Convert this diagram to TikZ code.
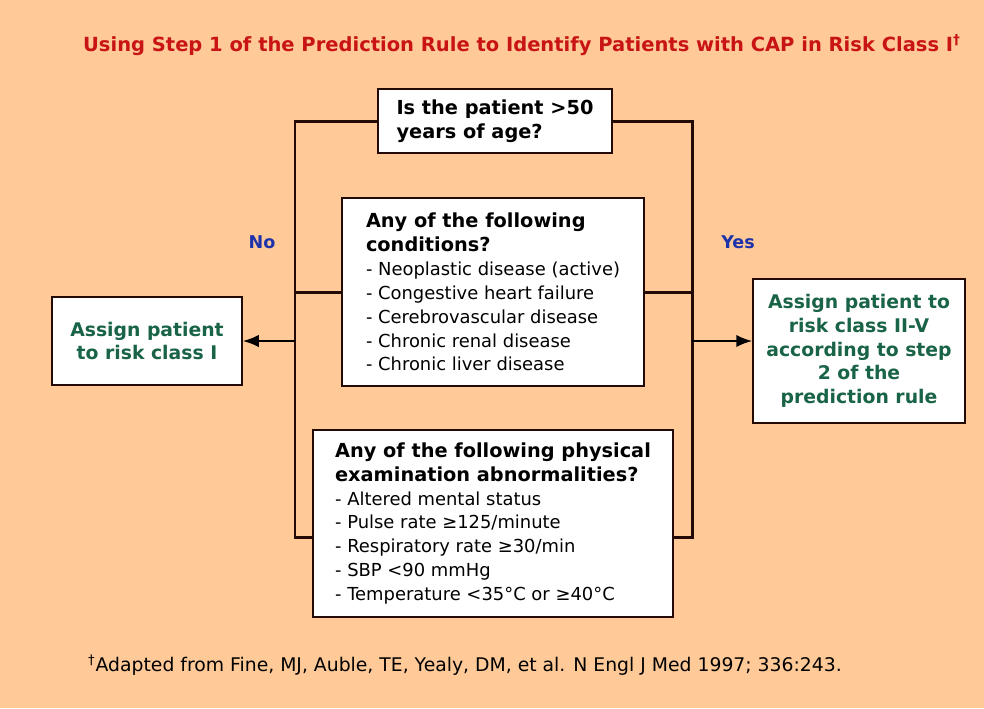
\documentclass[tikz,border=0pt]{standalone}
\usepackage{fontspec}
\setmainfont{DejaVu Sans}
\usetikzlibrary{arrows.meta,positioning}
\definecolor{peach}{RGB}{255,202,152}
\definecolor{titleRed}{RGB}{200,20,20}
\definecolor{ruleGreen}{RGB}{25,100,70}
\definecolor{answerBlue}{RGB}{30,50,170}
\definecolor{frameInk}{RGB}{35,10,5}
\newcommand{\qhead}[1]{{\bfseries\fontsize{11}{13.6}\selectfont #1}}

\begin{document}
\begin{tikzpicture}[x=0.02cm,y=-0.02cm,
    qbox/.style={draw=frameInk, line width=1.1pt, fill=white, inner sep=0pt, align=left,
      font=\fontsize{10.2}{13.6}\selectfont},
    abox/.style={draw=frameInk, line width=1.1pt, fill=white, inner sep=0pt, align=center,
      text=ruleGreen, font=\bfseries\fontsize{10.7}{13.5}\selectfont},
    frame/.style={frameInk, line width=1.7pt},
    arr/.style={black, line width=0.9pt, -{Latex[length=9pt,width=7pt]}},
    answer/.style={text=answerBlue, font=\bfseries\fontsize{10}{12}\selectfont}]
  % Background
  \fill[peach] (0,0) rectangle (984,708);
  \useasboundingbox (0,0) rectangle (984,708);
  % Title
  \node[text=titleRed, font=\bfseries\fontsize{11.1}{13}\selectfont] (title) at (522,45)
    {Using Step 1 of the Prediction Rule to Identify Patients with CAP in Risk Class I\textsuperscript{†}};
  % Questions
  \node[qbox, minimum width=4.68cm, minimum height=1.28cm] (age) at (495,121)
    {\qhead{Is the patient >50}\\ \qhead{years of age?}};
  \node[qbox, minimum width=6.04cm, minimum height=3.76cm] (cond) at (493,292)
    {\qhead{Any of the following}\\ \qhead{conditions?}\\
     - Neoplastic disease (active)\\ - Congestive heart failure\\
     - Cerebrovascular disease\\ - Chronic renal disease\\ - Chronic liver disease};
  \node[qbox, minimum width=7.2cm, minimum height=3.74cm] (exam) at (493,523.5)
    {\qhead{Any of the following physical}\\ \qhead{examination abnormalities?}\\
     - Altered mental status\\ - Pulse rate ≥125/minute\\
     - Respiratory rate ≥30/min\\ - SBP <90 mmHg\\ - Temperature <35°C or ≥40°C};
  % Outcomes
  \node[abox, minimum width=3.8cm, minimum height=1.76cm] (classone) at (147,341)
    {Assign patient\\ to risk class I};
  \node[abox, minimum width=4.24cm, minimum height=2.88cm] (classtwo) at (859,351)
    {Assign patient to\\ risk class II-V\\ according to step\\ 2 of the\\ prediction rule};
  % Bus corners
  \coordinate (lb) at (295,537);
  \coordinate (rb) at (692,537);
  \coordinate (ra) at (692,341);
  % No side
  \draw[frame] (age.west) -| (lb) -- (lb -| exam.west);
  \draw[frame] (cond.west) -- (cond.west -| lb);
  \draw[arr] (lb |- classone.east) -- (classone.east);
  % Yes side
  \draw[frame] (age.east) -| (rb) -- (rb -| exam.east);
  \draw[frame] (cond.east) -- (cond.east -| rb);
  \draw[arr] (ra) -- (ra -| classtwo.west);
  % Answers
  \node[answer] (no) at (262,242) {No};
  \node[answer] (yes) at (738,242) {Yes};
  % Footnote
  \node[anchor=west, font=\fontsize{10.7}{13}\selectfont] (source) at (82,665)
    {\textsuperscript{†}Adapted from Fine, MJ, Auble, TE, Yealy, DM, et al. N Engl J Med 1997; 336:243.};
\end{tikzpicture}
\end{document}
